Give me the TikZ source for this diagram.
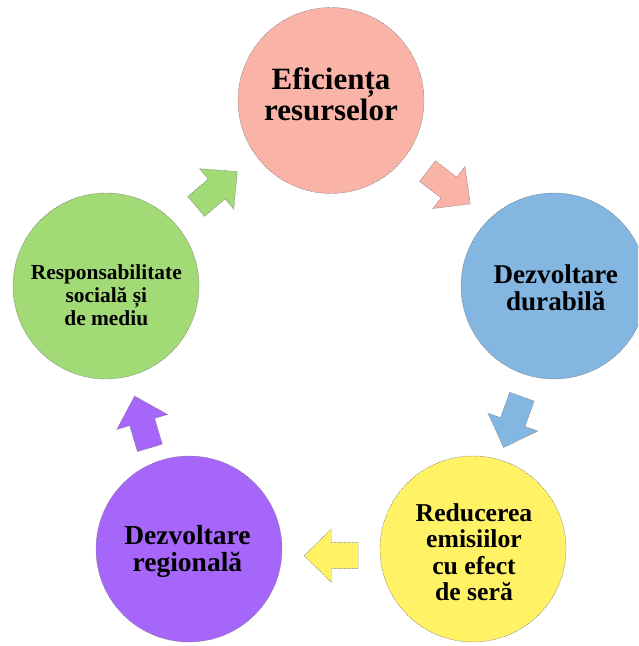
\documentclass[tikz,border=0pt]{standalone}
\usepackage{fontspec}
\setmainfont{Liberation Serif}
\definecolor{cpink}{HTML}{F9B4A7}
\definecolor{cblue}{HTML}{84B6E2}
\definecolor{cyellow}{HTML}{FFF265}
\definecolor{cpurple}{HTML}{A766FA}
\definecolor{cgreen}{HTML}{A2DA76}
\tikzset{
  blockarrow/.pic={\path[pic actions] (-27,-13) -- (0,-13) -- (0,-26.5) -- (27,0) -- (0,26.5) -- (0,13) -- (-27,13) -- cycle;}
}
\begin{document}
\begin{tikzpicture}[x=1pt,y=1pt,
  circ/.style={circle, minimum size=186pt, inner sep=0pt, draw=black!55, line width=0.4pt, dash pattern=on 1.5pt off 1pt},
  lbl/.style={align=center, inner sep=0pt, text=black},
  arr/.style={draw=black!55, line width=0.4pt, dash pattern=on 1.5pt off 1pt}]
\useasboundingbox (0,0) rectangle (638,646);
\clip (0,0) rectangle (638,646);
% circles
\node[circ, fill=cpink]   (c1) at (331,545.5) {};
\node[circ, fill=cblue]   (c2) at (554,360) {};
\node[circ, fill=cyellow] (c3) at (473,97) {};
\node[circ, fill=cpurple] (c4) at (189,97) {};
\node[circ, fill=cgreen]  (c5) at (106,360) {};
% labels
\node[lbl, font=\bfseries\fontsize{31}{31.4}\selectfont] (t1) at (331,551.5) {Eficiența\\resurselor};
\node[lbl, font=\bfseries\fontsize{27.1}{26.8}\selectfont] (t2) at (555.8,358.5) {Dezvoltare\\durabilă};
\node[lbl, font=\bfseries\fontsize{25.7}{26.4}\selectfont] (t3) at (474,93.6) {Reducerea\\emisiilor\\cu efect\\de seră};
\node[lbl, font=\bfseries\fontsize{27.5}{27}\selectfont] (t4) at (187.4,94.3) {Dezvoltare\\regională};
\node[lbl, font=\bfseries\fontsize{21.4}{23.1}\selectfont] (t5) at (106.3,351) {Responsabilitate\\socială și\\de mediu};
% block arrows
\pic (a1) [arr, fill=cpink, rotate=-37.5] at (448.9,458.5) {blockarrow};
\pic (a2) [arr, fill=cblue, rotate=-109.8] at (512.8,223.9) {blockarrow};
\pic (a3) [arr, fill=cyellow, rotate=180] at (331.2,90.3) {blockarrow};
\pic (a4) [arr, fill=cpurple, rotate=106.4] at (142.2,224) {blockarrow};
\pic (a5) [arr, fill=cgreen, rotate=40.2] at (216.7,457) {blockarrow};
\end{tikzpicture}
\end{document}
